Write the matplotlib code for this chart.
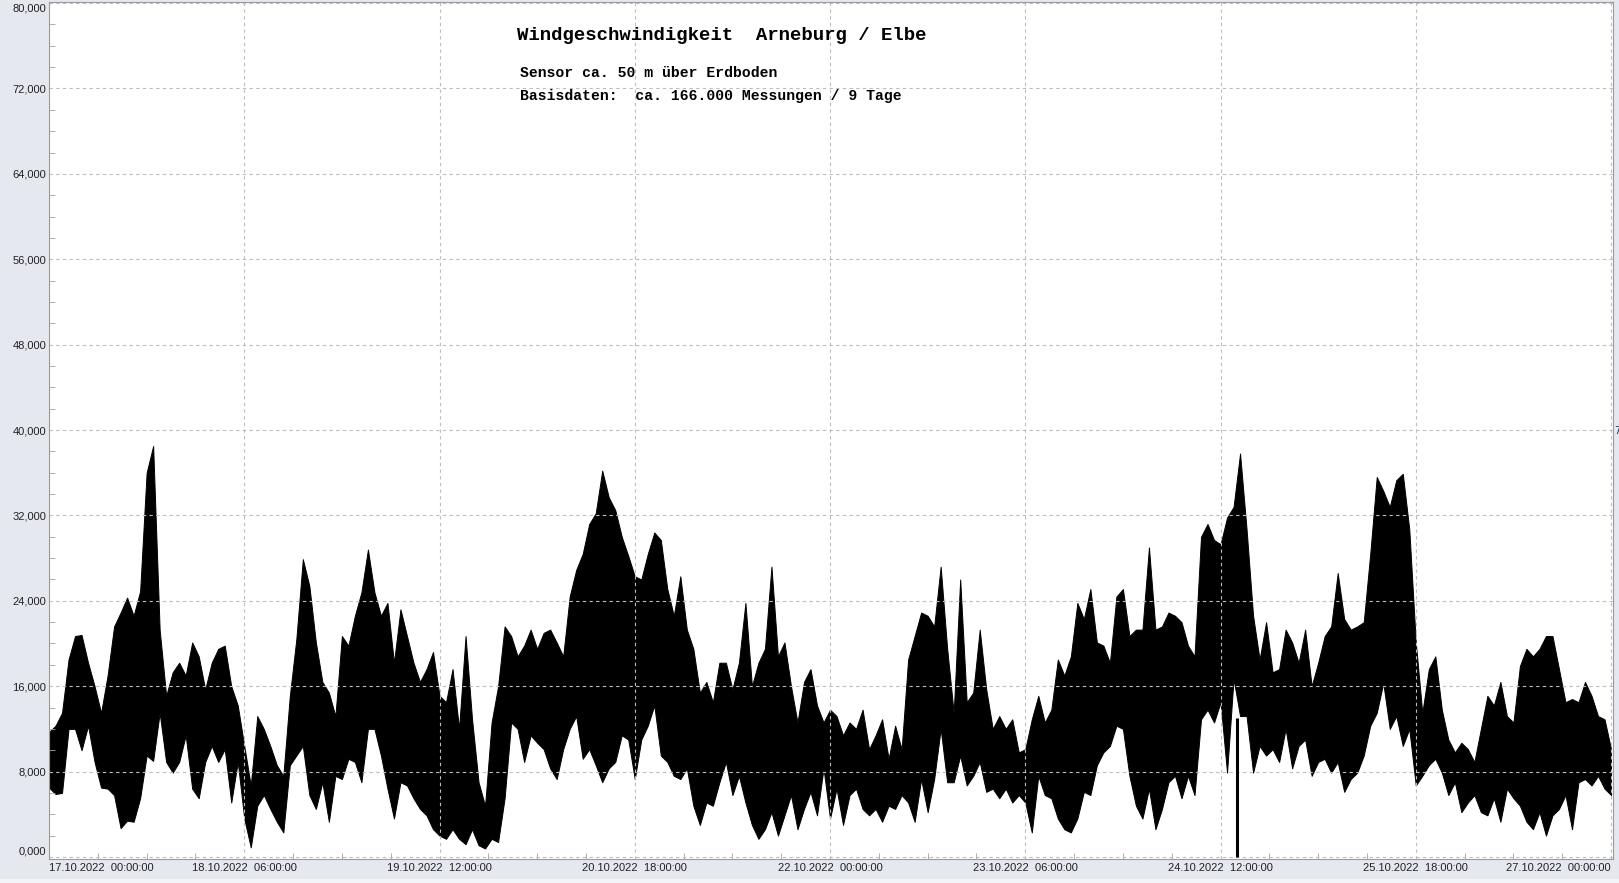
import numpy as np
import matplotlib.pyplot as plt
from matplotlib.ticker import MultipleLocator, FuncFormatter
from matplotlib.patches import Rectangle

hours = np.arange(241)
wind_hi = [
    11.7, 12.3, 13.5, 18.5, 20.7, 20.8, 18.2, 16.0, 13.5, 17.0,
    21.6, 22.9, 24.3, 22.6, 24.9, 36.0, 38.5, 21.3, 15.1, 17.3,
    18.2, 17.0, 20.1, 18.8, 15.7, 18.2, 19.5, 19.8, 16.0, 14.2,
    10.4, 6.7, 13.2, 12.0, 10.4, 8.6, 7.6, 15.1, 20.4, 27.9,
    25.4, 20.1, 16.4, 15.4, 13.2, 20.7, 19.8, 22.6, 24.8, 28.8,
    24.8, 22.6, 23.8, 18.2, 23.2, 20.7, 18.2, 16.4, 17.6, 19.2,
    15.1, 14.5, 17.6, 12.0, 20.7, 12.9, 7.0, 4.8, 12.6, 16.0,
    21.6, 20.7, 18.8, 19.8, 21.3, 19.5, 21.0, 21.3, 20.1, 18.8,
    24.4, 26.9, 28.4, 31.2, 32.2, 36.2, 33.7, 32.5, 30.0, 28.2,
    26.3, 26.0, 28.4, 30.4, 29.7, 25.1, 22.6, 26.3, 21.3, 19.5,
    15.4, 16.4, 14.5, 18.2, 18.2, 15.7, 18.2, 23.8, 16.0, 18.2,
    19.5, 27.2, 18.8, 20.1, 16.0, 12.6, 16.4, 17.6, 14.2, 12.6,
    13.8, 13.2, 11.4, 12.6, 12.0, 13.8, 10.1, 11.4, 12.9, 9.2,
    12.3, 10.1, 18.5, 20.7, 22.9, 22.6, 21.6, 27.2, 19.5, 13.5,
    26.0, 14.5, 15.4, 21.3, 15.7, 12.0, 13.2, 12.0, 12.9, 9.8,
    10.1, 12.9, 15.1, 12.6, 13.8, 18.5, 17.0, 18.8, 23.8, 22.3,
    25.1, 20.1, 19.8, 18.2, 24.4, 25.1, 20.7, 21.3, 21.3, 29.0,
    21.3, 21.6, 22.9, 22.6, 22.0, 19.8, 18.8, 30.0, 31.2, 29.7,
    29.3, 31.8, 32.8, 37.8, 30.7, 22.6, 18.5, 22.0, 17.3, 17.6,
    21.3, 20.1, 18.2, 21.3, 16.0, 18.2, 20.7, 21.6, 26.6, 22.3,
    21.3, 21.6, 22.0, 28.4, 35.6, 34.3, 32.8, 35.3, 35.9, 30.7,
    20.1, 13.5, 17.6, 18.8, 13.8, 11.0, 9.8, 10.7, 10.1, 8.9,
    12.0, 15.1, 14.2, 16.4, 13.2, 12.6, 17.9, 19.5, 18.8, 19.5,
    20.7, 20.7, 17.6, 14.5, 14.8, 14.5, 16.4, 15.1, 13.2, 12.9,
    10.1,
]
wind_lo = [
    6.5, 5.9, 6.0, 12.0, 12.0, 10.0, 12.3, 8.9, 6.5, 6.4,
    5.8, 2.7, 3.4, 3.3, 5.5, 9.5, 9.0, 13.5, 8.9, 7.9,
    8.9, 11.4, 6.4, 5.5, 8.9, 10.4, 8.9, 10.1, 5.1, 8.9,
    3.6, 0.9, 4.8, 5.8, 4.5, 3.3, 2.3, 8.6, 9.5, 10.4,
    5.8, 4.5, 7.0, 3.3, 7.6, 7.3, 9.2, 8.9, 7.0, 12.0,
    12.0, 9.5, 6.4, 3.6, 7.0, 6.7, 5.5, 4.5, 3.9, 2.6,
    2.0, 1.7, 2.6, 1.7, 1.2, 2.6, 1.1, 0.8, 1.7, 1.4,
    5.5, 12.6, 12.0, 8.9, 11.4, 10.7, 10.1, 8.3, 7.3, 10.1,
    12.0, 13.2, 9.2, 10.1, 8.6, 7.0, 8.3, 8.9, 11.4, 11.0,
    7.3, 11.0, 12.3, 14.2, 9.5, 8.9, 7.6, 7.3, 8.3, 4.8,
    3.0, 5.1, 4.8, 7.0, 8.9, 5.8, 7.6, 5.1, 3.0, 1.7,
    2.6, 4.2, 2.0, 3.9, 5.8, 2.6, 4.5, 6.1, 3.9, 8.3,
    3.6, 6.4, 3.0, 5.8, 6.4, 4.5, 3.9, 4.5, 3.3, 4.8,
    4.5, 5.8, 5.1, 3.3, 7.3, 4.2, 7.3, 12.0, 7.0, 7.0,
    9.5, 6.7, 7.6, 8.9, 6.1, 6.4, 5.5, 6.4, 5.1, 5.8,
    5.1, 2.3, 7.6, 5.8, 5.5, 3.6, 2.6, 2.3, 3.6, 6.1,
    5.8, 8.6, 9.8, 10.4, 12.3, 12.0, 7.6, 4.8, 3.6, 6.4,
    2.6, 4.5, 7.0, 7.6, 5.5, 7.6, 5.8, 12.9, 13.8, 12.6,
    14.5, 7.9, 16.7, 13.2, 13.2, 7.9, 10.4, 9.5, 10.1, 8.9,
    12.0, 8.3, 10.4, 11.0, 7.6, 8.9, 9.2, 7.9, 8.9, 6.1,
    7.3, 7.9, 9.5, 12.3, 13.5, 16.3, 12.0, 13.2, 10.4, 12.0,
    6.7, 7.6, 8.6, 9.2, 7.9, 5.8, 7.0, 4.2, 5.1, 5.8,
    4.2, 3.9, 5.5, 3.3, 6.4, 5.5, 4.8, 3.3, 2.6, 4.2,
    2.0, 3.9, 4.5, 5.8, 2.6, 7.0, 7.3, 6.7, 7.6, 6.4,
    5.8,
]
# Ausreisser 24.10. ca. 14:30 (Messwert 0)
dropout = (182.5, 0.0, 13.0)

ytick_values = [0, 8, 16, 24, 32, 40, 48, 56, 64, 72, 80]
xtick_hours = [0, 30, 60, 90, 120, 150, 180, 210, 240]
xtick_labels = ["17.10.2022  00:00:00", "18.10.2022  06:00:00", "19.10.2022  12:00:00",
                "20.10.2022  18:00:00", "22.10.2022  00:00:00", "23.10.2022  06:00:00",
                "24.10.2022  12:00:00", "25.10.2022  18:00:00", "27.10.2022  00:00:00"]

W, H = 1619, 883
fig = plt.figure(figsize=(W / 100, H / 100), dpi=100, facecolor="#e6e8ef")
fig.patches.append(Rectangle((0, 0), 1, 4 / H, transform=fig.transFigure,
                             color="#f3f4f7", zorder=0))
ax = fig.add_axes([49 / W, 1 - 859 / H, (1613 - 49) / W, (859 - 2) / H])
ax.set_facecolor("white")

ax.fill_between(hours, wind_lo, wind_hi, color="black", lw=0.7)
ax.vlines(dropout[0], dropout[1], dropout[2], color="black", lw=2.2)

ax.set_xlim(0, 240.3)
ax.set_ylim(-0.19, 80.1)

ax.set_yticks(ytick_values)
ax.set_yticklabels([("%.3f" % v).replace(".", ",") for v in ytick_values])
ax.yaxis.set_minor_locator(MultipleLocator(2))
ax.set_xticks(xtick_hours)
ax.set_xticklabels(xtick_labels)
ax.xaxis.set_minor_locator(MultipleLocator(7.5))

ax.grid(True, which="major", color="#bdbdbd", ls=(0, (3, 3)), lw=0.8)
ax.tick_params(which="both", direction="in", color="#a0a0a0", labelsize=8, labelcolor="#222222")
ax.tick_params(which="major", length=0)
ax.tick_params(which="minor", length=4)
ax.tick_params(axis="y", pad=2)
ax.tick_params(axis="x", pad=3)
for s in ax.spines.values():
    s.set_color("#9a9a9a")

yl = ax.get_yticklabels()
for lab in yl:
    lab.set_fontfamily("Liberation Sans")
    lab.set_va("center_baseline")
yl[0].set_va("bottom")
yl[-1].set_va("top")
xl = ax.get_xticklabels()
for lab in xl:
    lab.set_fontfamily("Liberation Sans")
xl[0].set_ha("left")
xl[-1].set_ha("right")

ax.text(517 / W, 1 - 35 / H, "Windgeschwindigkeit  Arneburg / Elbe", transform=fig.transFigure,
        family="Liberation Mono", weight="bold", fontsize=13.7, va="center", ha="left")
ax.text(520 / W, 1 - 73 / H, "Sensor ca. 50 m über Erdboden", transform=fig.transFigure,
        family="Liberation Mono", weight="bold", fontsize=10.6, va="center", ha="left")
ax.text(520 / W, 1 - 96 / H, "Basisdaten:  ca. 166.000 Messungen / 9 Tage", transform=fig.transFigure,
        family="Liberation Mono", weight="bold", fontsize=10.6, va="center", ha="left")
fig.text(1614 / W, 1 - 431 / H, "7", fontsize=7, color="#223355", va="center", ha="left")

fig.savefig("out.png", dpi=100, facecolor=fig.get_facecolor())
